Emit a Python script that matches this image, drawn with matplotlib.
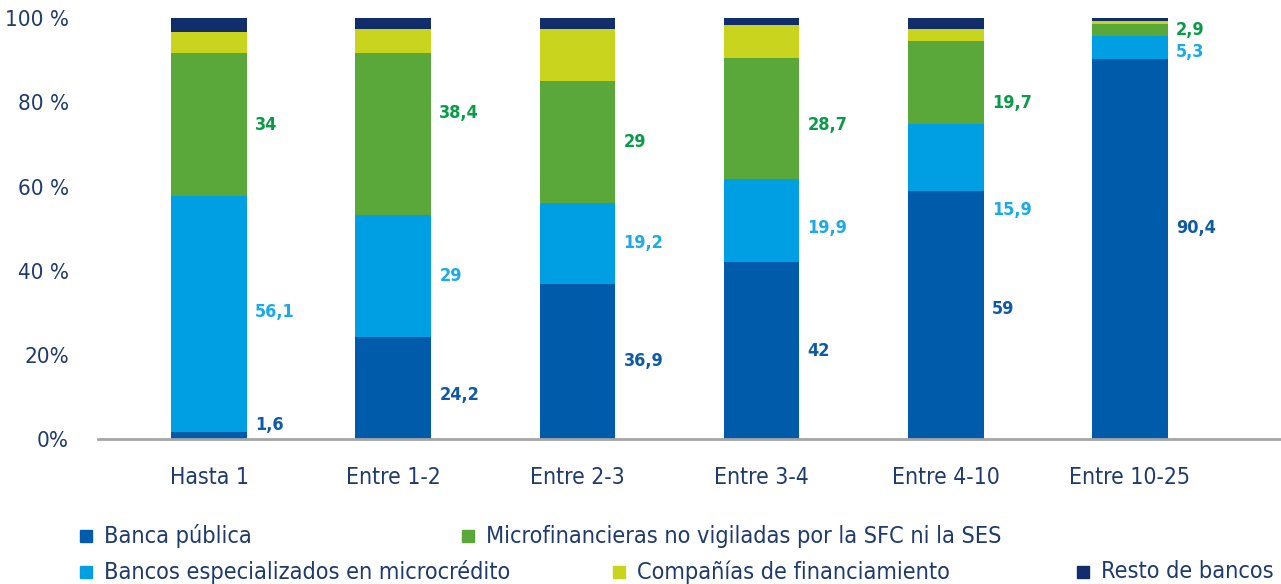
import matplotlib.pyplot as plt
import matplotlib.patches as mpatches
import numpy as np

plt.rcParams['font.family'] = ['DejaVu Sans']
plt.rcParams['font.stretch'] = 'condensed'

categories = ['Hasta 1', 'Entre 1-2', 'Entre 2-3', 'Entre 3-4', 'Entre 4-10', 'Entre 10-25']
banca_publica = [1.6, 24.2, 36.9, 42.0, 59.0, 90.4]
bancos_micro = [56.1, 29.0, 19.2, 19.9, 15.9, 5.3]
microfinancieras = [34.0, 38.4, 29.0, 28.7, 19.7, 2.9]
companias = [5.0, 5.8, 12.3, 7.7, 2.8, 0.7]
resto = [3.3, 2.6, 2.6, 1.7, 2.6, 0.7]
ytick_labels = ['0%', '20%', '40 %', '60 %', '80 %', '100 %']

series = [
    ('Banca pública', banca_publica, '#005BAA', '#0F5AA5'),
    ('Bancos especializados en microcrédito', bancos_micro, '#009FE3', '#1BA9E8'),
    ('Microfinancieras no vigiladas por la SFC ni la SES', microfinancieras, '#5BA83A', '#0A9B48'),
    ('Compañías de financiamiento', companias, '#C9D41F', None),
    ('Resto de bancos', resto, '#112D6B', None),
]
labelled = [0, 1, 2]
# small vertical nudges (data units) so labels do not collide
nudge = {(0, 0): 2.5, (0, 5): 5.0, (1, 4): -12.5, (1, 5): -1.0, (2, 1): 5.0, (2, 4): -5.0,
         (1, 0): 0.5, (0, 1): -1.7, (1, 3): -1.8, (2, 3): -1.6, (0, 4): 1.4}

fig = plt.figure(figsize=(12.81, 5.84), dpi=100)
ax = fig.add_axes([0.0765, 0.248, 0.9235, 0.721])

x = np.arange(len(categories))
w = 0.41
bottom = np.zeros(len(categories))
for si, (name, vals, color, lcol) in enumerate(series):
    vals = np.array(vals)
    ax.bar(x, vals, w, bottom=bottom, color=color, linewidth=0)
    if si in labelled:
        for i in range(len(x)):
            y = bottom[i] + vals[i] / 2 + nudge.get((si, i), 0)
            ax.text(x[i] + w / 2 + 0.045, y, f'{vals[i]:g}'.replace('.', ','),
                    color=lcol, fontsize=13, fontweight='bold', va='center', ha='left')
    bottom += vals

ax.set_xlim(-0.603, 5.82)
ax.set_ylim(0, 100)
ax.set_yticks([0, 20, 40, 60, 80, 100])
ax.set_yticklabels(ytick_labels)
ax.set_xticks(x)
ax.set_xticklabels(categories)
ax.tick_params(axis='y', length=0, pad=21, labelsize=16, labelcolor='#1F3A6E')
ax.tick_params(axis='x', length=0, pad=19, labelsize=16.5, labelcolor='#1F3A6E')
for s in ['top', 'right', 'left']:
    ax.spines[s].set_visible(False)
ax.spines['bottom'].set_color('#A6A6A6')
ax.spines['bottom'].set_linewidth(2)

# legend, laid out like the original
legend_pos = [(80, 536), (80, 572), (462, 536), (613, 572), (1077, 572)]
for (name, vals, color, lcol), (px, py) in zip(series, legend_pos):
    fig.patches.append(mpatches.Rectangle((px / 1281, 1 - (py + 6) / 584), 12 / 1281, 12 / 584,
                                          transform=fig.transFigure, color=color))
    fig.text((px + 24) / 1281, 1 - py / 584, name, fontsize=16.8, color='#1F3A6E',
             va='center', ha='left')

fig.savefig('out.png', dpi=100)
